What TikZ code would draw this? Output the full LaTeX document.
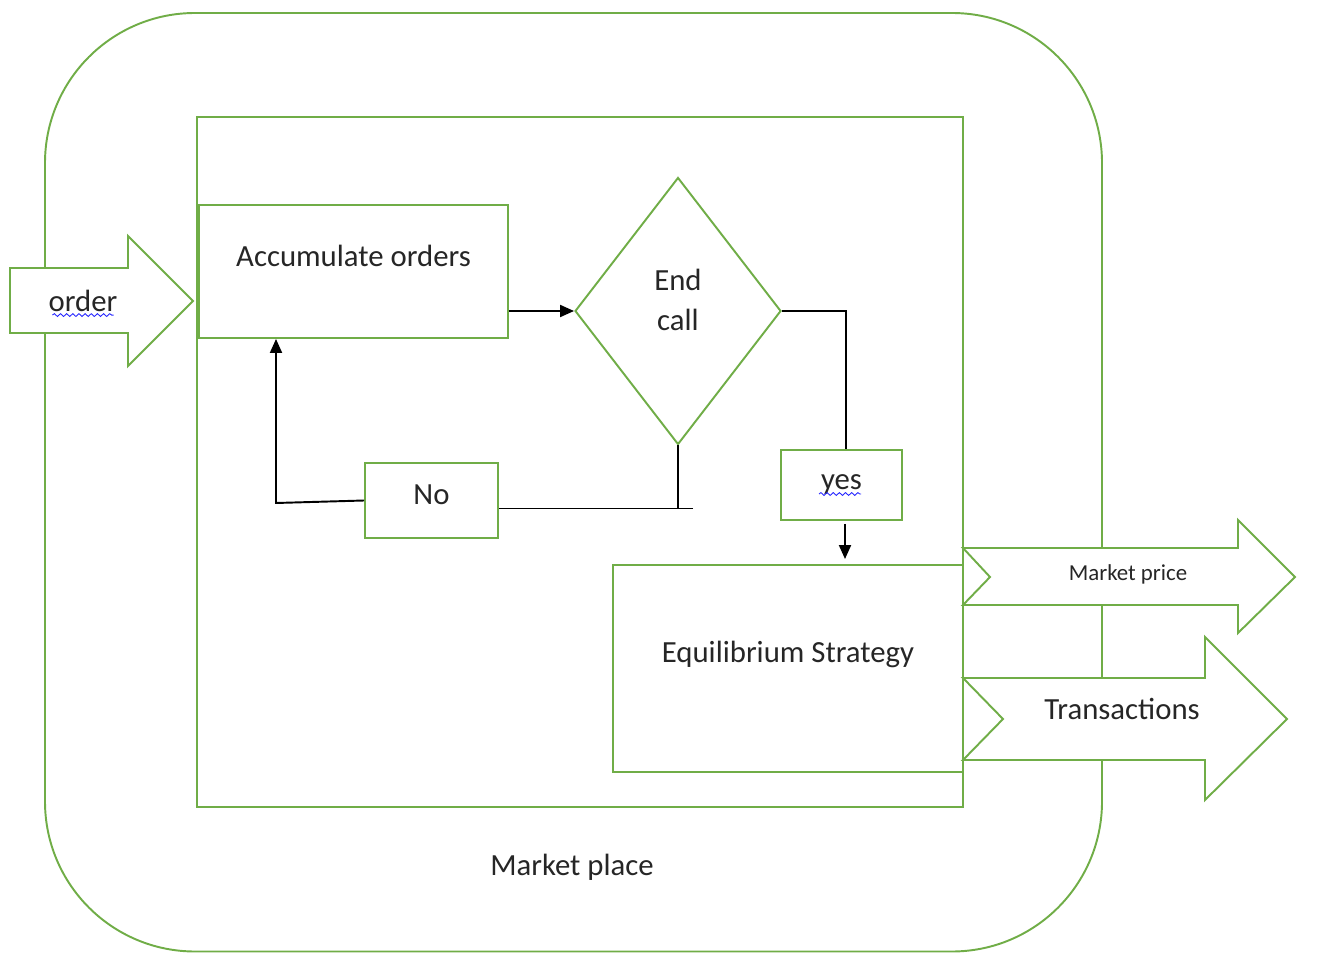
\documentclass[tikz,border=0pt]{standalone}
\usepackage{fontspec}
\setmainfont{Carlito}
\usetikzlibrary{shapes.geometric,arrows.meta,decorations.pathmorphing,calc}
\definecolor{mkgreen}{HTML}{70AD47}
\definecolor{txtgray}{HTML}{262626}

\begin{document}
\begin{tikzpicture}[
    >={Triangle[length=0.28cm,width=0.24cm]},
    font=\fontsize{17.5}{23}\selectfont,
    text=txtgray,
    box/.style={draw=mkgreen,line width=1.1pt,fill=white,inner sep=0pt},
    decision/.style={diamond,draw=mkgreen,line width=1.1pt,fill=white,inner sep=0pt,align=center},
    bigarrow/.style={draw=mkgreen,line width=1.1pt,fill=white},
    flow/.style={black,line width=1.1pt},
    squiggle/.style={blue!85,line width=0.5pt,decorate,decoration={snake,amplitude=0.8pt,segment length=3.5pt}}
  ]
  \useasboundingbox (0,0) rectangle (26.82,-19.06);
  % market place
  \draw[mkgreen,line width=1.1pt,rounded corners=3cm] (0.9,-0.26) rectangle (22.04,-19.03);
  \draw[mkgreen,line width=1.1pt] (3.94,-2.34) rectangle (19.26,-16.14);
  \node (place) at (11.44,-17.34) {Market place};

  % steps
  \node[box,minimum width=6.18cm,minimum height=2.66cm,text depth=0.62cm] (acc) at (7.07,-5.43) {Accumulate orders};
  \node[decision,minimum width=4.12cm,minimum height=5.34cm,text depth=0.44cm] (endcall) at (13.56,-6.22) {End\\call};
  \node[box,minimum width=2.42cm,minimum height=1.40cm] (yes) at (16.83,-9.70) {yes};
  \node[box,minimum width=2.66cm,minimum height=1.50cm,text depth=0.22cm] (no) at (8.63,-10.01) {No};
  \node[box,minimum width=7.00cm,minimum height=4.14cm,text depth=0.68cm] (eq) at (15.76,-13.37) {Equilibrium Strategy};

  % connectors
  \coordinate (joint) at ($(endcall.south)+(0,-1.26)$);
  \coordinate (jend) at ($(joint)+(0.3,0)$);
  \coordinate (bend) at (5.52,-10.06);
  \draw[flow,->] (acc.east |- endcall.west) -- (endcall.west);
  \draw[flow] (endcall.east) -| ([xshift=0.09cm]yes.north);
  \draw[flow,->] ([xshift=0.07cm,yshift=-0.06cm]yes.south) -- ([xshift=0.07cm,yshift=0.1cm]yes.south |- eq.north);
  \draw[flow] (endcall.south) -- (joint);
  \draw[flow] (jend) -- (no.east |- joint);
  \draw[flow,->] (no.west) -- (bend) -- (bend |- acc.south);

  % in and out
  \draw[bigarrow] (0.2,-5.36) -- (2.56,-5.36) -- (2.56,-4.72) -- (3.86,-6.02)
    -- (2.56,-7.32) -- (2.56,-6.66) -- (0.2,-6.66) -- cycle;
  \node (order) at (1.66,-6.02) {order};
  \draw[bigarrow] (19.26,-10.96) -- (24.76,-10.96) -- (24.76,-10.40) -- (25.90,-11.54)
    -- (24.76,-12.66) -- (24.76,-12.10) -- (19.26,-12.10) -- (19.80,-11.54) -- cycle;
  \node[font=\fontsize{13}{16}\selectfont] (price) at (22.56,-11.48) {Market price};
  \draw[bigarrow] (19.26,-13.56) -- (24.10,-13.56) -- (24.10,-12.74) -- (25.74,-14.38)
    -- (24.10,-16.00) -- (24.10,-15.20) -- (19.26,-15.20) -- (20.06,-14.38) -- cycle;
  \node (trans) at (22.44,-14.18) {Transactions};

  % spelling marks
  \draw[squiggle] ([xshift=0.2cm,yshift=-0.07cm]order.base west) -- ([xshift=-0.2cm,yshift=-0.07cm]order.base east);
  \draw[squiggle] ($(yes.center)+(-0.45,-0.18)$) -- ($(yes.center)+(0.39,-0.18)$);
\end{tikzpicture}
\end{document}
